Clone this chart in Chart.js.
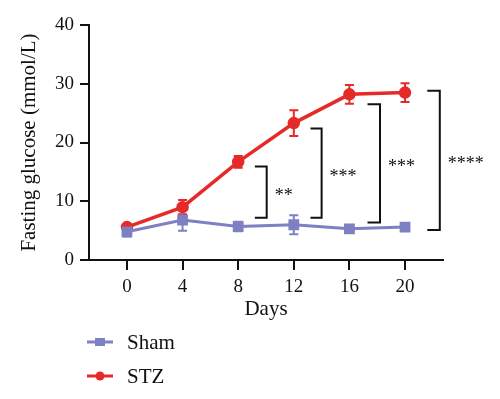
<!DOCTYPE html>
<html>
<head>
<meta charset="utf-8">
<script src="https://cdn.jsdelivr.net/npm/chart.js@4"></script>
<style>
  html, body { margin: 0; padding: 0; background: #fff; }
  #wrap { width: 500px; height: 399px; position: relative; }
</style>
</head>
<body>
<div id="wrap"><canvas id="chart"></canvas></div>
<script>
// Data
const days = [0, 4, 8, 12, 16, 20];
const shamMean = [4.8, 6.8, 5.7, 6.0, 5.3, 5.6];
const shamErr = [0.8, 1.8, 0.8, 1.6, 0.6, 0.5];
const stzMean = [5.6, 9.0, 16.7, 23.3, 28.2, 28.5];
const stzErr = [0.4, 1.2, 1.0, 2.2, 1.6, 1.6];
const yTicks = [0, 10, 20, 30, 40];

// significance brackets (data units)
const bracketX0 = [9.2, 13.2, 17.3, 21.6];
const bracketX1 = [10.05, 14.0, 18.2, 22.5];
const bracketTop = [15.9, 22.4, 26.5, 28.8];
const bracketBot = [7.2, 7.2, 6.4, 5.1];
const bracketLabels = ["**", "***", "***", "****"];

const SHAM = "#7d80c3";
const STZ = "#e52a2a";
const FONT = "'Liberation Serif', 'DejaVu Serif', serif";

// error bars drawn before the lines
const errorBars = {
  id: "errorBars",
  beforeDatasetsDraw(chart) {
    const { ctx, scales: { x, y } } = chart;
    const sets = [[stzMean, stzErr, STZ], [shamMean, shamErr, SHAM]];
    ctx.save();
    ctx.lineWidth = 2;
    sets.forEach(([m, e, col]) => {
      ctx.strokeStyle = col;
      days.forEach((d, i) => {
        const px = x.getPixelForValue(d);
        const t = y.getPixelForValue(m[i] + e[i]);
        const b = y.getPixelForValue(m[i] - e[i]);
        ctx.beginPath();
        ctx.moveTo(px, t); ctx.lineTo(px, b);
        ctx.moveTo(px - 4.5, t); ctx.lineTo(px + 4.5, t);
        ctx.moveTo(px - 4.5, b); ctx.lineTo(px + 4.5, b);
        ctx.stroke();
      });
    });
    ctx.restore();
  }
};

// brackets + stars, and the stacked legend
const extras = {
  id: "extras",
  afterDraw(chart) {
    const { ctx, scales: { x, y } } = chart;
    ctx.save();
    ctx.strokeStyle = "#111";
    ctx.lineWidth = 2;
    ctx.fillStyle = "#111";
    ctx.font = "18px " + FONT;
    ctx.textAlign = "center";
    ctx.textBaseline = "middle";
    bracketLabels.forEach((lab, i) => {
      const x0 = x.getPixelForValue(bracketX0[i]);
      const x1 = x.getPixelForValue(bracketX1[i]);
      const t = y.getPixelForValue(bracketTop[i]);
      const b = y.getPixelForValue(bracketBot[i]);
      ctx.beginPath();
      ctx.moveTo(x0, t); ctx.lineTo(x1, t); ctx.lineTo(x1, b); ctx.lineTo(x0, b);
      ctx.stroke();
      const w = ctx.measureText(lab).width;
      ctx.fillText(lab, x1 + 8 + w / 2, (t + b) / 2 + 4);
    });

    // legend
    const rows = [342, 376];
    ctx.textAlign = "left";
    ctx.font = "21px " + FONT;
    chart.data.datasets.forEach((ds, i) => {
      const yy = rows[i];
      ctx.strokeStyle = ds.borderColor;
      ctx.lineWidth = 3;
      ctx.beginPath();
      ctx.moveTo(87, yy); ctx.lineTo(113, yy);
      ctx.stroke();
      ctx.fillStyle = ds.borderColor;
      if (ds.pointStyle === "rect") {
        ctx.fillRect(95, yy - 4, 10, 8);
      } else {
        ctx.beginPath();
        ctx.arc(100, yy, 4.5, 0, Math.PI * 2);
        ctx.fill();
      }
      ctx.fillStyle = "#111";
      ctx.fillText(ds.label, 127, yy + 1);
    });
    ctx.restore();
  }
};

new Chart(document.getElementById("chart"), {
  type: "line",
  data: {
    datasets: [
      {
        label: "Sham",
        data: days.map((d, i) => ({ x: d, y: shamMean[i] })),
        borderColor: SHAM,
        backgroundColor: SHAM,
        borderWidth: 3,
        pointStyle: "rect",
        pointRadius: 5.5,
        order: 0
      },
      {
        label: "STZ",
        data: days.map((d, i) => ({ x: d, y: stzMean[i] })),
        borderColor: STZ,
        backgroundColor: STZ,
        borderWidth: 3.5,
        pointStyle: "circle",
        pointRadius: 4.5,
        order: 1
      }
    ]
  },
  options: {
    responsive: true,
    maintainAspectRatio: false,
    animation: false,
    layout: { padding: { top: 25, right: 57, left: 17, bottom: 77 } },
    plugins: { legend: { display: false }, tooltip: { enabled: false } },
    scales: {
      x: {
        type: "linear",
        min: -2.73,
        max: 22.73,
        afterBuildTicks: s => { s.ticks = days.map(v => ({ value: v })); },
        afterFit: s => { s.height = 62; },
        border: { color: "#111", width: 2 },
        grid: { drawOnChartArea: false, color: "#111", lineWidth: 2, tickLength: 10 },
        ticks: { color: "#111", padding: 6, font: { family: FONT, size: 19 } },
        title: { display: true, text: "Days", color: "#111", padding: 0, font: { family: FONT, size: 21 } }
      },
      y: {
        min: 0,
        max: 40,
        afterBuildTicks: s => { s.ticks = yTicks.map(v => ({ value: v })); },
        afterFit: s => { s.width = 72; },
        border: { color: "#111", width: 2 },
        grid: { drawOnChartArea: false, color: "#111", lineWidth: 2, tickLength: 9 },
        ticks: { color: "#111", padding: 6, font: { family: FONT, size: 19 } },
        title: { display: true, text: "Fasting glucose (mmol/L)", color: "#111", padding: 0, font: { family: FONT, size: 21 } }
      }
    }
  },
  plugins: [errorBars, extras]
});
</script>
</body>
</html>
